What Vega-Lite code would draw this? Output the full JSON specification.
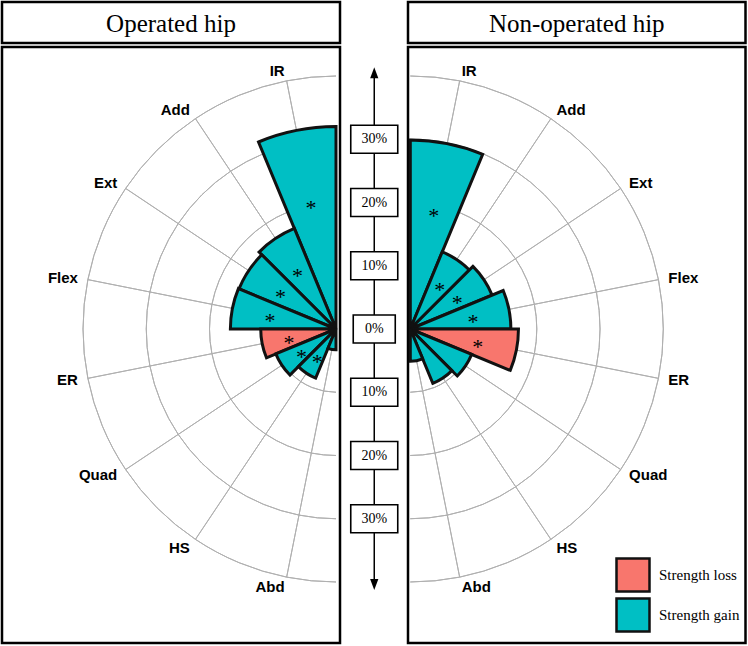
{
  "$schema": "https://vega.github.io/schema/vega-lite/v6.json",
  "padding": 0,
  "config": {"view": {"stroke": "#000", "strokeWidth": 2.5}},
  "datasets": {
    "wedges": [
      {"panel": "Operated hip", "muscle": "IR", "change": "Strength gain", "value": 32.0, "sig": "*"},
      {"panel": "Operated hip", "muscle": "Add", "change": "Strength gain", "value": 17.2, "sig": "*"},
      {"panel": "Operated hip", "muscle": "Ext", "change": "Strength gain", "value": 16.6, "sig": "*"},
      {"panel": "Operated hip", "muscle": "Flex", "change": "Strength gain", "value": 16.7, "sig": "*"},
      {"panel": "Operated hip", "muscle": "ER", "change": "Strength loss", "value": 11.9, "sig": "*"},
      {"panel": "Operated hip", "muscle": "Quad", "change": "Strength gain", "value": 10.3, "sig": "*"},
      {"panel": "Operated hip", "muscle": "HS", "change": "Strength gain", "value": 8.4, "sig": "*"},
      {"panel": "Operated hip", "muscle": "Abd", "change": "Strength gain", "value": 3.3, "sig": ""},
      {"panel": "Non-operated hip", "muscle": "IR", "change": "Strength gain", "value": 29.9, "sig": "*"},
      {"panel": "Non-operated hip", "muscle": "Add", "change": "Strength gain", "value": 13.2, "sig": "*"},
      {"panel": "Non-operated hip", "muscle": "Ext", "change": "Strength gain", "value": 14.0, "sig": "*"},
      {"panel": "Non-operated hip", "muscle": "Flex", "change": "Strength gain", "value": 15.9, "sig": "*"},
      {"panel": "Non-operated hip", "muscle": "ER", "change": "Strength loss", "value": 17.1, "sig": "*"},
      {"panel": "Non-operated hip", "muscle": "Quad", "change": "Strength gain", "value": 10.5, "sig": ""},
      {"panel": "Non-operated hip", "muscle": "HS", "change": "Strength gain", "value": 9.3, "sig": ""},
      {"panel": "Non-operated hip", "muscle": "Abd", "change": "Strength gain", "value": 5.1, "sig": ""}
    ],
    "rings": [{"pct": 10}, {"pct": 20}, {"pct": 30}, {"pct": 40}],
    "levels": [
      {"level": 30, "label": "30%"}, {"level": 20, "label": "20%"}, {"level": 10, "label": "10%"},
      {"level": 0, "label": "0%"},
      {"level": -10, "label": "10%"}, {"level": -20, "label": "20%"}, {"level": -30, "label": "30%"}
    ]
  },
  "spacing": 0,
  "resolve": {"scale": {"color": "independent"}, "legend": {"color": "independent"}},
  "hconcat": [
    {
      "spacing": 0,
      "resolve": {"scale": {"color": "independent"}, "legend": {"color": "independent"}},
      "vconcat": [
        {
          "width": 338, "height": 41,
          "data": {"values": [{"panel": "Operated hip"}]},
          "mark": {"type": "text", "font": "Liberation Serif", "fontSize": 25, "baseline": "middle", "color": "#000", "dy": 1},
          "encoding": {
            "x": {"datum": 0, "type": "quantitative", "scale": {"domain": [-1, 1]}, "axis": null},
            "y": {"datum": 0, "type": "quantitative", "scale": {"domain": [-1, 1]}, "axis": null},
            "text": {"field": "panel"}
          }
        },
        {
          "width": 338, "height": 596,
          "data": {"name": "wedges"},
          "transform": [{"filter": "datum.panel == 'Operated hip'"}],
          "encoding": {
            "x": {"datum": 0, "type": "quantitative", "scale": {"domain": [-52.81, 0.632], "nice": false, "zero": false}, "axis": null},
            "y": {"datum": 0, "type": "quantitative", "scale": {"domain": [-49.64, 44.58], "nice": false, "zero": false}, "axis": null}
          },
          "resolve": {"scale": {"theta": "independent", "radius": "independent"}},
          "layer": [
            {
              "data": {"name": "rings"},
              "mark": {"type": "arc", "filled": false, "stroke": "#b0b0b0", "strokeWidth": 1, "theta": 3.141592653589793, "theta2": 6.283185307179586},
              "encoding": {
                "radius": {"field": "pct", "type": "quantitative", "scale": {"type": "linear", "domain": [0, 40], "range": [0, 253]}},
                "radius2": {"field": "pct"}
              }
            },
            {
              "mark": {"type": "arc", "filled": false, "stroke": "#b0b0b0", "strokeWidth": 1},
              "encoding": {
                "theta": {"field": "muscle", "type": "nominal", "scale": {"type": "point", "domain": ["IR", "Add", "Ext", "Flex", "ER", "Quad", "HS", "Abd"], "range": [3.141592653589793, 6.283185307179586], "reverse": true, "padding": 0.5}},
                "theta2": {"field": "muscle"},
                "radius": {"datum": 40, "type": "quantitative", "scale": {"type": "linear", "domain": [0, 40], "range": [0, 253]}}
              }
            },
            {
              "mark": {"type": "arc", "stroke": "#111", "strokeWidth": 3, "strokeMiterLimit": 2},
              "encoding": {
                "theta": {"field": "muscle", "type": "nominal", "scale": {"type": "band", "domain": ["IR", "Add", "Ext", "Flex", "ER", "Quad", "HS", "Abd"], "range": [3.141592653589793, 6.283185307179586], "reverse": true, "paddingInner": 0, "paddingOuter": 0}},
                "radius": {"field": "value", "type": "quantitative", "scale": {"type": "linear", "domain": [0, 40], "range": [0, 253]}},
                "color": {"field": "change", "type": "nominal", "scale": {"domain": ["Strength loss", "Strength gain"], "range": ["#F8766D", "#00BFC4"]}, "legend": null}
              }
            },
            {
              "mark": {"type": "text", "font": "Liberation Sans", "fontWeight": "bold", "fontSize": 15, "align": "right", "baseline": "middle", "color": "#000"},
              "encoding": {
                "theta": {"field": "muscle", "type": "nominal", "scale": {"type": "point", "domain": ["IR", "Add", "Ext", "Flex", "ER", "Quad", "HS", "Abd"], "range": [3.141592653589793, 6.283185307179586], "reverse": true, "padding": 0.5}},
                "radius": {"datum": 41.6, "type": "quantitative", "scale": {"type": "linear", "domain": [0, 40], "range": [0, 253]}},
                "text": {"field": "muscle"}
              }
            },
            {
              "transform": [{"filter": "datum.sig == '*'"}],
              "mark": {"type": "text", "font": "Liberation Serif", "fontSize": 22, "baseline": "middle", "dy": 5, "color": "#000"},
              "encoding": {
                "theta": {"field": "muscle", "type": "nominal", "scale": {"type": "point", "domain": ["IR", "Add", "Ext", "Flex", "ER", "Quad", "HS", "Abd"], "range": [3.141592653589793, 6.283185307179586], "reverse": true, "padding": 0.5}},
                "radius": {"field": "value", "type": "quantitative", "scale": {"type": "linear", "domain": [0, 40], "range": [0, 161]}},
                "text": {"field": "sig"}
              }
            }
          ]
        }
      ]
    },
    {
      "width": 60.5, "height": 641,
      "view": {"stroke": "transparent"},
      "data": {"name": "levels"},
      "encoding": {
        "x": {"datum": 0, "type": "quantitative", "scale": {"domain": [-1, 1]}, "axis": null}
      },
      "layer": [
        {
          "data": {"values": [{"part": "arrow"}]},
          "mark": {"type": "rule", "stroke": "#000", "strokeWidth": 1.5},
          "encoding": {
            "y": {"datum": 40.6, "type": "quantitative", "scale": {"domain": [-49.64, 51.7], "nice": false, "zero": false}, "axis": null},
            "y2": {"datum": -40.6}
          }
        },
        {
          "data": {"values": [{"part": "head"}]},
          "mark": {"type": "point", "filled": true, "color": "#000", "size": 121, "opacity": 1, "shape": "M0,-1L0.75,1L-0.75,1Z"},
          "encoding": {"y": {"datum": 40.5, "type": "quantitative", "scale": {"domain": [-49.64, 51.7], "nice": false, "zero": false}, "axis": null}}
        },
        {
          "data": {"values": [{"part": "head"}]},
          "mark": {"type": "point", "filled": true, "color": "#000", "size": 121, "opacity": 1, "shape": "M0,1L0.75,-1L-0.75,-1Z"},
          "encoding": {"y": {"datum": -40.4, "type": "quantitative", "scale": {"domain": [-49.64, 51.7], "nice": false, "zero": false}, "axis": null}}
        },
        {
          "mark": {"type": "point", "filled": true, "fill": "#fff", "stroke": "#000", "strokeWidth": 1.6, "size": 2209, "opacity": 1},
          "encoding": {
            "y": {"field": "level", "type": "quantitative", "scale": {"domain": [-49.64, 51.7], "nice": false, "zero": false}, "axis": null},
            "shape": {"condition": {"test": "datum.label == '0%'", "value": "M-0.894,-0.596H0.894V0.596H-0.894Z"}, "value": "M-1,-0.596H1V0.596H-1Z"}
          }
        },
        {
          "mark": {"type": "text", "font": "Liberation Serif", "fontSize": 14, "baseline": "middle", "color": "#000"},
          "encoding": {
            "y": {"field": "level", "type": "quantitative", "scale": {"domain": [-49.64, 51.7], "nice": false, "zero": false}, "axis": null},
            "text": {"field": "label"}
          }
        }
      ]
    },
    {
      "spacing": 0,
      "resolve": {"scale": {"color": "independent"}, "legend": {"color": "independent"}},
      "vconcat": [
        {
          "width": 337.5, "height": 41,
          "data": {"values": [{"panel": "Non-operated hip"}]},
          "mark": {"type": "text", "font": "Liberation Serif", "fontSize": 25, "baseline": "middle", "color": "#000", "dy": 1},
          "encoding": {
            "x": {"datum": 0, "type": "quantitative", "scale": {"domain": [-1, 1]}, "axis": null},
            "y": {"datum": 0, "type": "quantitative", "scale": {"domain": [-1, 1]}, "axis": null},
            "text": {"field": "panel"}
          }
        },
        {
          "width": 337.5, "height": 596,
          "data": {"name": "wedges"},
          "transform": [{"filter": "datum.panel == 'Non-operated hip'"}],
          "encoding": {
            "x": {"datum": 0, "type": "quantitative", "scale": {"domain": [-0.364, 53.0], "nice": false, "zero": false}, "axis": null},
            "y": {"datum": 0, "type": "quantitative", "scale": {"domain": [-49.64, 44.58], "nice": false, "zero": false}, "axis": null}
          },
          "resolve": {"scale": {"theta": "independent", "radius": "independent"}},
          "layer": [
            {
              "data": {"name": "rings"},
              "mark": {"type": "arc", "filled": false, "stroke": "#b0b0b0", "strokeWidth": 1, "theta": 0, "theta2": 3.141592653589793},
              "encoding": {
                "radius": {"field": "pct", "type": "quantitative", "scale": {"type": "linear", "domain": [0, 40], "range": [0, 253]}},
                "radius2": {"field": "pct"}
              }
            },
            {
              "mark": {"type": "arc", "filled": false, "stroke": "#b0b0b0", "strokeWidth": 1},
              "encoding": {
                "theta": {"field": "muscle", "type": "nominal", "scale": {"type": "point", "domain": ["IR", "Add", "Ext", "Flex", "ER", "Quad", "HS", "Abd"], "range": [0, 3.141592653589793], "padding": 0.5}},
                "theta2": {"field": "muscle"},
                "radius": {"datum": 40, "type": "quantitative", "scale": {"type": "linear", "domain": [0, 40], "range": [0, 253]}}
              }
            },
            {
              "mark": {"type": "arc", "stroke": "#111", "strokeWidth": 3, "strokeMiterLimit": 2},
              "encoding": {
                "theta": {"field": "muscle", "type": "nominal", "scale": {"type": "band", "domain": ["IR", "Add", "Ext", "Flex", "ER", "Quad", "HS", "Abd"], "range": [0, 3.141592653589793], "paddingInner": 0, "paddingOuter": 0}},
                "radius": {"field": "value", "type": "quantitative", "scale": {"type": "linear", "domain": [0, 40], "range": [0, 253]}},
                "color": {
                  "field": "change", "type": "nominal",
                  "scale": {"domain": ["Strength loss", "Strength gain"], "range": ["#F8766D", "#00BFC4"]},
                  "legend": {
                    "title": null, "orient": "bottom-right", "offset": 6, "padding": 0,
                    "symbolType": "square", "symbolSize": 1089, "symbolStrokeColor": "#111", "symbolStrokeWidth": 2.5,
                    "labelFont": "Liberation Serif", "labelFontSize": 15, "labelColor": "#000", "labelOffset": 8, "rowPadding": -9,
                    "encode": {"symbols": {"update": {"stroke": {"value": "#111"}, "strokeWidth": {"value": 2.5}}}}
                  }
                }
              }
            },
            {
              "mark": {"type": "text", "font": "Liberation Sans", "fontWeight": "bold", "fontSize": 15, "align": "left", "baseline": "middle", "color": "#000"},
              "encoding": {
                "theta": {"field": "muscle", "type": "nominal", "scale": {"type": "point", "domain": ["IR", "Add", "Ext", "Flex", "ER", "Quad", "HS", "Abd"], "range": [0, 3.141592653589793], "padding": 0.5}},
                "radius": {"datum": 41.6, "type": "quantitative", "scale": {"type": "linear", "domain": [0, 40], "range": [0, 253]}},
                "text": {"field": "muscle"}
              }
            },
            {
              "transform": [{"filter": "datum.sig == '*'"}],
              "mark": {"type": "text", "font": "Liberation Serif", "fontSize": 22, "baseline": "middle", "dy": 5, "color": "#000"},
              "encoding": {
                "theta": {"field": "muscle", "type": "nominal", "scale": {"type": "point", "domain": ["IR", "Add", "Ext", "Flex", "ER", "Quad", "HS", "Abd"], "range": [0, 3.141592653589793], "padding": 0.5}},
                "radius": {"field": "value", "type": "quantitative", "scale": {"type": "linear", "domain": [0, 40], "range": [0, 161]}},
                "text": {"field": "sig"}
              }
            }
          ]
        }
      ]
    }
  ]
}
